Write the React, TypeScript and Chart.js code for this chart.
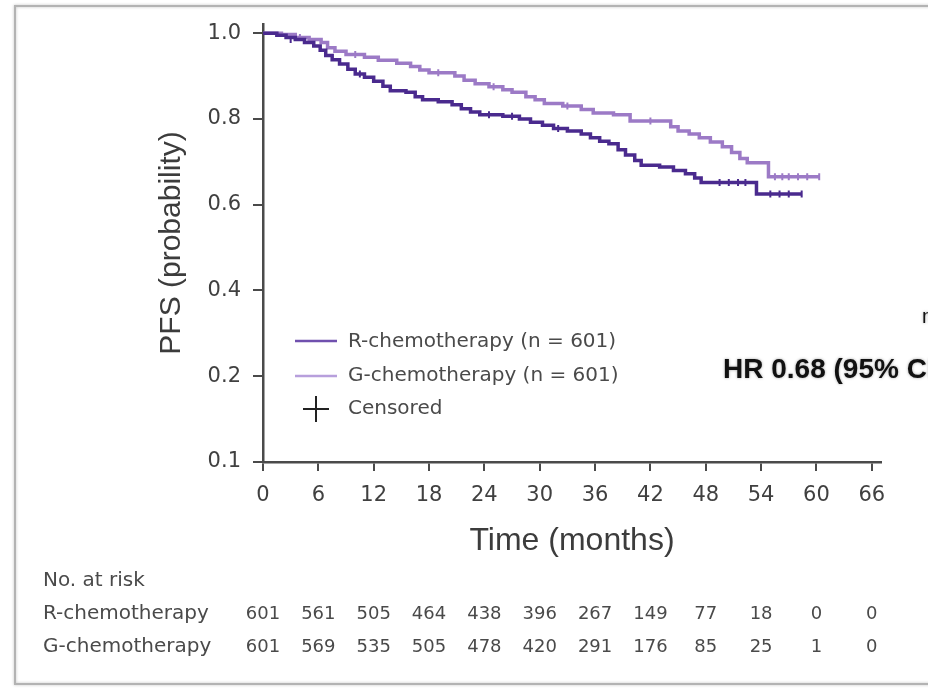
import React, { useEffect, useRef } from "react";
import { Chart, registerables } from "chart.js";

Chart.register(...registerables);

// ---- data ----
const xTicks = [0, 6, 12, 18, 24, 30, 36, 42, 48, 54, 60, 66];
const yTicks = [0, 0.2, 0.4, 0.6, 0.8, 1.0];
const yTickLabels = ["0.1", "0.2", "0.4", "0.6", "0.8", "1.0"];

const rTime = [0, 1.5, 2.5, 3.5, 4.5, 5.5, 6.2, 6.8, 7.5, 8.3, 9.2, 10.0, 11.0, 12.0, 13.0, 13.8, 15.5, 16.5, 17.3, 19.0, 20.5, 21.5, 22.5, 23.5, 26.0, 27.8, 29.0, 30.3, 31.5, 33.0, 34.5, 35.5, 36.5, 37.5, 38.5, 39.3, 40.3, 41.0, 43.0, 44.5, 45.8, 46.8, 47.5, 53.5, 58.4];
const rSurv = [1.0, 0.995, 0.99, 0.985, 0.978, 0.97, 0.96, 0.948, 0.938, 0.928, 0.916, 0.905, 0.897, 0.888, 0.876, 0.866, 0.862, 0.852, 0.845, 0.84, 0.833, 0.824, 0.816, 0.81, 0.806, 0.8, 0.792, 0.785, 0.778, 0.772, 0.765, 0.756, 0.748, 0.742, 0.728, 0.716, 0.703, 0.692, 0.688, 0.68, 0.672, 0.662, 0.652, 0.625, 0.625];

const gTime = [0, 2, 3.5, 5, 6.3, 7.0, 7.8, 9.0, 11.0, 12.5, 14.5, 16.0, 17.0, 18.0, 20.8, 21.8, 23.0, 24.5, 26.0, 27.0, 28.5, 29.5, 30.5, 32.5, 34.5, 35.8, 38.0, 39.8, 44.2, 45.0, 46.2, 47.3, 48.5, 49.8, 50.8, 51.7, 52.5, 54.8, 60.3];
const gSurv = [1.0, 0.997, 0.99, 0.985, 0.978, 0.966, 0.958, 0.95, 0.944, 0.937, 0.93, 0.922, 0.914, 0.908, 0.9, 0.89, 0.882, 0.875, 0.868, 0.862, 0.852, 0.845, 0.836, 0.83, 0.822, 0.814, 0.81, 0.795, 0.782, 0.772, 0.765, 0.756, 0.746, 0.735, 0.722, 0.708, 0.698, 0.665, 0.665];

const rCensorT = [3, 10.5, 24.5, 27, 32, 49.5, 50.5, 51.5, 52.3, 55, 56, 57, 58.4];
const rCensorS = [0.985, 0.905, 0.81, 0.806, 0.778, 0.652, 0.652, 0.652, 0.652, 0.625, 0.625, 0.625, 0.625];
const gCensorT = [4, 10, 19, 25, 33, 42, 55.5, 56.3, 57, 58, 59, 60.3];
const gCensorS = [0.99, 0.95, 0.908, 0.875, 0.83, 0.795, 0.665, 0.665, 0.665, 0.665, 0.665, 0.665];

const legendLabels = ["R-chemotherapy (n = 601)", "G-chemotherapy (n = 601)", "Censored"];
const riskTitle = "No. at risk";
const riskLabels = ["R-chemotherapy", "G-chemotherapy"];
const riskR = [601, 561, 505, 464, 438, 396, 267, 149, 77, 18, 0, 0];
const riskG = [601, 569, 535, 505, 478, 420, 291, 176, 85, 25, 1, 0];
const yTitle = "PFS (probability)";
const xTitle = "Time (months)";
const hrText = "HR 0.68 (95% CI 0.53–0.86)";
const sideText = "median PFS";

const R_COLOR = "#4a2a8e";
const G_COLOR = "#9c7ac6";
const AXIS = "#4a4a4a";
const TICK_TEXT = "#404040";
const TEXT = "#4a4a4a";

const overlay = {
  id: "overlay",
  afterDraw(chart: any) {
    const ctx = chart.ctx as CanvasRenderingContext2D;
    const xs = chart.scales.x;
    ctx.save();
    // frame
    ctx.save();
    ctx.strokeStyle = "#b3b3b3";
    ctx.lineWidth = 2;
    ctx.shadowColor = "rgba(0,0,0,0.25)";
    ctx.shadowBlur = 3;
    ctx.beginPath();
    ctx.moveTo(935, 6);
    ctx.lineTo(15, 6);
    ctx.lineTo(15, 684);
    ctx.lineTo(935, 684);
    ctx.stroke();
    ctx.restore();

    // axis titles
    ctx.fillStyle = "#3c3c3c";
    ctx.textAlign = "center";
    ctx.textBaseline = "middle";
    ctx.save();
    ctx.translate(172, 243);
    ctx.rotate(-Math.PI / 2);
    ctx.font = '30px "Liberation Sans", Arial, sans-serif';
    ctx.fillText(yTitle, 0, 0);
    ctx.restore();
    ctx.font = '32px "Liberation Sans", Arial, sans-serif';
    ctx.fillText(xTitle, 572, 541);

    // legend
    ctx.lineWidth = 2.5;
    ctx.strokeStyle = "#7050ae";
    ctx.beginPath();
    ctx.moveTo(295, 341);
    ctx.lineTo(337, 341);
    ctx.stroke();
    ctx.strokeStyle = "#b79fdc";
    ctx.beginPath();
    ctx.moveTo(295, 376);
    ctx.lineTo(337, 376);
    ctx.stroke();
    ctx.strokeStyle = "#222";
    ctx.lineWidth = 2;
    ctx.beginPath();
    ctx.moveTo(303, 409);
    ctx.lineTo(329, 409);
    ctx.moveTo(316, 396);
    ctx.lineTo(316, 422);
    ctx.stroke();
    ctx.fillStyle = TEXT;
    ctx.textAlign = "left";
    ctx.font = '20px "DejaVu Sans", sans-serif';
    ctx.fillText(legendLabels[0], 348, 342);
    ctx.fillText(legendLabels[1], 348, 376);
    ctx.fillText(legendLabels[2], 348, 409);

    // HR text
    ctx.save();
    ctx.font = 'bold 28px "Liberation Sans", Arial, sans-serif';
    ctx.fillStyle = "#111";
    ctx.shadowColor = "rgba(0,0,0,0.35)";
    ctx.shadowBlur = 3;
    ctx.textBaseline = "alphabetic";
    ctx.fillText(hrText, 723, 378);
    ctx.font = '20px "Liberation Sans", Arial, sans-serif';
    ctx.fillText(sideText, 922, 323);
    ctx.restore();

    // risk table
    ctx.fillStyle = TEXT;
    ctx.font = '20px "DejaVu Sans", sans-serif';
    ctx.textAlign = "left";
    ctx.fillText(riskTitle, 43, 581);
    ctx.fillText(riskLabels[0], 43, 614);
    ctx.fillText(riskLabels[1], 43, 647);
    ctx.textAlign = "center";
    ctx.font = '18px "DejaVu Sans", sans-serif';
    xTicks.forEach((t, i) => {
      const px = xs.getPixelForValue(t);
      ctx.fillText(String(riskR[i]), px, 614);
      ctx.fillText(String(riskG[i]), px, 647);
    });
    ctx.restore();
  },
};

export default function App() {
  const ref = useRef<HTMLCanvasElement | null>(null);
  useEffect(() => {
    document.body.style.margin = "0";
    const canvas = ref.current;
    if (!canvas) return;
    const tickFont = { family: '"DejaVu Sans", sans-serif', size: 21 };
    const chart = new Chart(canvas, {
      type: "line",
      data: {
        datasets: [
          {
            label: "R-chemotherapy",
            data: rTime.map((t, i) => ({ x: t, y: rSurv[i] })),
            stepped: "before",
            borderColor: R_COLOR,
            borderWidth: 3.5,
            pointRadius: 0,
            fill: false,
          },
          {
            label: "G-chemotherapy",
            data: gTime.map((t, i) => ({ x: t, y: gSurv[i] })),
            stepped: "before",
            borderColor: G_COLOR,
            borderWidth: 3.5,
            pointRadius: 0,
            fill: false,
          },
          {
            label: "R censored",
            data: rCensorT.map((t, i) => ({ x: t, y: rCensorS[i] })),
            showLine: false,
            pointStyle: "line",
            rotation: 90,
            pointRadius: 3.5,
            borderWidth: 2,
            borderColor: R_COLOR,
            backgroundColor: R_COLOR,
          },
          {
            label: "G censored",
            data: gCensorT.map((t, i) => ({ x: t, y: gCensorS[i] })),
            showLine: false,
            pointStyle: "line",
            rotation: 90,
            pointRadius: 3.5,
            borderWidth: 2,
            borderColor: G_COLOR,
            backgroundColor: G_COLOR,
          },
        ],
      },
      options: {
        animation: false,
        responsive: false,
        devicePixelRatio: 1,
        layout: { padding: { left: 140, top: 24, right: 47, bottom: 126 } },
        plugins: { legend: { display: false }, tooltip: { enabled: false } },
        scales: {
          x: {
            type: "linear",
            min: 0,
            max: 67,
            afterBuildTicks: (s: any) => {
              s.ticks = xTicks.map((v) => ({ value: v }));
            },
            afterFit: (s: any) => {
              s.height = 100;
            },
            border: { display: true, color: AXIS, width: 2.5 },
            grid: { drawOnChartArea: false, drawTicks: true, tickLength: 9, color: AXIS, lineWidth: 2 },
            ticks: { color: TICK_TEXT, font: tickFont, padding: 12, maxRotation: 0, autoSkip: false },
          },
          y: {
            type: "linear",
            min: 0,
            max: 1.02,
            afterBuildTicks: (s: any) => {
              s.ticks = yTicks.map((v) => ({ value: v }));
            },
            afterFit: (s: any) => {
              s.width = 123;
            },
            border: { display: true, color: AXIS, width: 2.5 },
            grid: { drawOnChartArea: false, drawTicks: true, tickLength: 10, color: AXIS, lineWidth: 2 },
            ticks: {
              color: TICK_TEXT,
              font: tickFont,
              padding: 12,
              autoSkip: false,
              callback: (v: any) => {
                const i = yTicks.findIndex((t) => Math.abs(t - Number(v)) < 1e-6);
                return i >= 0 ? yTickLabels[i] : "";
              },
            },
          },
        },
      },
      plugins: [overlay],
    });
    return () => chart.destroy();
  }, []);
  return (
    <div style={{ width: 928, height: 688, position: "relative", overflow: "hidden", background: "#fff" }}>
      <canvas ref={ref} width={928} height={688} style={{ display: "block", width: 928, height: 688 }} />
    </div>
  );
}
